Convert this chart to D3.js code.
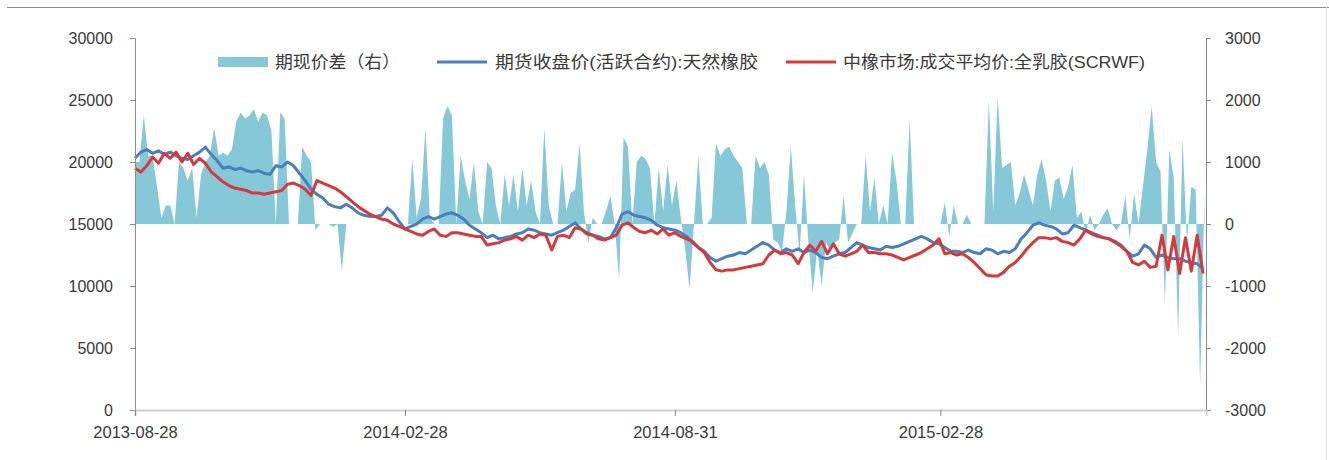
<!DOCTYPE html>
<html>
<head>
<meta charset="utf-8">
<script src="https://cdn.jsdelivr.net/npm/d3@7"></script>
<style>
  html, body { margin: 0; padding: 0; background: #fff; }
  svg text { font-family: "Liberation Sans", "Noto Sans CJK SC", sans-serif; fill: #3a3a3a; }
</style>
</head>
<body>
<div id="chart"></div>
<script>
// series are sampled on a fixed calendar step from the first date
const startDate = "2013-08-28"
const endDate = "2015-08-28"
const lineStepDays = 4
const spreadStepDays = 3

const xTickDates = ["2013-08-28", "2014-02-28", "2014-08-31", "2015-02-28"]
const leftTicks = [0, 5000, 10000, 15000, 20000, 25000, 30000]
const rightTicks = [-3000, -2000, -1000, 0, 1000, 2000, 3000]

const legendNames = ["期现价差（右）", "期货收盘价(活跃合约):天然橡胶", "中橡市场:成交平均价:全乳胶(SCRWF)"]

// 期货收盘价(活跃合约):天然橡胶
const futures = [
  20300, 20800, 21000, 20700, 20900, 20600, 20800, 20500, 20300, 20200,
  20500, 20800, 21200, 20600, 20100, 19500, 19600, 19400, 19500, 19300,
  19200, 19300, 19100, 19000, 19700, 19600, 20000, 19700, 19100, 18500,
  17800, 17400, 17100, 16600, 16400, 16300, 16600, 16300, 15900, 15700,
  15600, 15600, 15700, 16300, 15900, 15200, 14600, 14800, 15000, 15400,
  15600, 15400, 15600, 15800, 15900, 15700, 15400, 14900, 14600, 14300,
  13900, 14100, 13800, 13900, 14000, 14200, 14300, 14600, 14500, 14300,
  14200, 14100, 14300, 14500, 14800, 15100, 14600, 14300, 14100, 14000,
  13800, 13900, 14700, 15800, 16000, 15700, 15600, 15500, 15300, 14900,
  14700, 14600, 14500, 14300, 14000, 13500, 13100, 12800, 12300, 12000,
  12200, 12400, 12500, 12700, 12600, 12900, 13200, 13500, 13300, 12900,
  12700, 13000, 12800, 13000, 12700, 12900, 12700, 12300, 12200, 12400,
  12600, 12700, 13100, 13500, 13300, 13100, 13000, 12900, 13200, 13100,
  13200, 13400, 13600, 13800, 14000, 13800, 13500, 13400, 13100, 12800,
  12800, 12700, 12900, 12700, 12600, 13000, 12900, 12600, 12800, 12700,
  13000, 13800, 14300, 14900, 15100, 14900, 14800, 14600, 14200, 14300,
  14900, 14700, 14500, 14300, 14100, 13900, 13800, 13600, 13300, 12800,
  12400, 12600, 13300, 13000, 12300, 12500, 12300, 12200, 12200, 12000,
  11900, 11800, 11400
]

// 中橡市场:成交平均价:全乳胶(SCRWF)
const spot = [
  19500, 19200, 19700, 20400, 19900, 20700, 20300, 20800, 20000, 20700,
  19800, 20300, 19900, 19200, 18800, 18400, 18100, 17900, 17800, 17700,
  17500, 17500, 17400, 17500, 17600, 17700, 18200, 18300, 18100, 17800,
  17300, 18500, 18300, 18100, 17900, 17600, 17200, 16800, 16400, 16100,
  15800, 15600, 15400, 15300, 15000, 14800, 14600, 14400, 14200, 14100,
  14400, 14600, 14100, 14000, 14300, 14300, 14200, 14100, 14000, 14000,
  13300, 13400, 13500, 13700, 13800, 14000, 13700, 14100, 13900, 14200,
  14100, 12900, 14000, 14100, 13900, 14700, 14600, 14200, 14100, 13800,
  13700, 13900, 14100, 14900, 15100, 14700, 14400, 14300, 14500, 14200,
  14600, 14100, 14300, 14000, 13800, 13600, 13100, 12700, 11900, 11300,
  11200, 11300, 11300, 11400, 11500, 11600, 11700, 11800, 12500, 12900,
  12600, 12700, 12500, 11800, 12700, 13300, 12800, 13600, 12600, 13400,
  12600, 12400, 12600, 12800, 13300, 12700, 12700, 12600, 12600, 12500,
  12300, 12100, 12300, 12500, 12700, 13000, 13300, 13800, 12600, 12700,
  12500, 12600, 12300, 11900, 11400, 10900, 10800, 10800, 11100, 11600,
  11900, 12400, 13000, 13500, 13900, 13900, 13800, 13900, 13600, 13500,
  13300, 13800, 14500, 14200, 14000, 13900, 13800, 13500, 13200, 12800,
  11900, 11700, 12000, 11500, 11600, 14100, 11300, 14000, 11000, 13900,
  11200, 14100, 11000
]

// 期现价差（右）
const spread = [
  1000, 1000, 1750, 1100, 1100, 600, 100, 300, 300, 0,
  1000, 900, 700, 900, 100, 800, 1000, 1100, 1550, 1100,
  1150, 1100, 1200, 1650, 1800, 1700, 1750, 1850, 1650, 1800,
  1750, 1500, 0, 1800, 1700, 0, 0, 0, 1250, 1100,
  1000, -100, 0, 0, 0, -50, 0, -750, 0, 0,
  0, 0, 0, 0, 0, 0, 0, 0, 0, 0,
  0, 0, 0, 1050, 100, 420, 1550, 100, 0, 0,
  1700, 1900, 1750, 0, 1100, 700, 400, 1000, 200, 0,
  1000, 900, 300, 0, 800, 300, 800, 200, 900, 300,
  700, 200, 0, 1550, 300, 0, 0, 1000, 200, 500,
  550, 1300, 200, -300, 100, 0, 0, 200, 450, 0,
  -900, 1400, 1250, 0, 1000, 1100, 1050, 900, 0, 900,
  200, 950, 300, 700, 100, -400, -1050, 0, 1100, 0,
  0, 100, 1300, 1100, 1200, 1250, 1100, 1000, 900, 0,
  0, 1100, 900, 1000, 800, -250, -300, -450, 200, 1250,
  300, -500, 800, -300, -1100, -400, -1000, -300, -450, -300,
  -250, 450, -300, -150, 0, 0, 1100, 200, 750, 0,
  300, 0, 1150, 700, 0, 0, 1700, 0, 0, 0,
  0, 0, 0, 0, 350, -200, 300, 0, 0, 150,
  0, 0, 0, 0, 2000, 200, 2050, 900, 950, 1000,
  300, 500, 800, 550, 300, 800, 1050, 700, 200, 700,
  750, 400, 600, 950, 100, 200, -150, 150, -100, 0,
  150, 250, 0, -100, 0, 450, -250, 500, 0, 600,
  1200, 1900, 1000, 850, -1300, 1200, 750, -1800, 1400, -300,
  600, 550, -2600, 500
]

const W = 1329, H = 460
const margin = {left: 135, right: 1206, top: 38, bottom: 410}

const parse = d3.timeParse("%Y-%m-%d")
const t0 = parse(startDate)
const lineData = futures.map((v, i) => ({date: d3.timeDay.offset(t0, i * lineStepDays), fut: v, spot: spot[i]}))
const spreadData = spread.map((v, i) => ({date: d3.timeDay.offset(t0, i * spreadStepDays), v: v}))

const svg = d3.select("#chart").append("svg")
  .attr("width", W).attr("height", H)

// outer frame
svg.append("line").attr("x1", 7).attr("x2", W).attr("y1", 7.5).attr("y2", 7.5)
  .attr("stroke", "#8c8c8c").attr("stroke-width", 1)
svg.append("line").attr("x1", 1326.5).attr("x2", 1326.5).attr("y1", 7).attr("y2", H)
  .attr("stroke", "#e4e4e4").attr("stroke-width", 1)

const x = d3.scaleTime()
  .domain([parse(startDate), parse(endDate)])
  .range([margin.left, margin.right])

const yL = d3.scaleLinear().domain([0, 30000]).range([margin.bottom, margin.top])
const yR = d3.scaleLinear().domain([-3000, 3000]).range([margin.bottom, margin.top])

// spread area (right axis)
svg.append("path")
  .datum(spreadData)
  .attr("fill", "#86c8d8")
  .attr("d", d3.area().x(d => x(d.date)).y0(yR(0)).y1(d => yR(d.v)))

// futures close
svg.append("path")
  .datum(lineData)
  .attr("fill", "none")
  .attr("stroke", "#4a7ebf")
  .attr("stroke-width", 3)
  .attr("stroke-linejoin", "round")
  .attr("d", d3.line().x(d => x(d.date)).y(d => yL(d.fut)))

// spot price
svg.append("path")
  .datum(lineData)
  .attr("fill", "none")
  .attr("stroke", "#d23a3c")
  .attr("stroke-width", 3)
  .attr("stroke-linejoin", "round")
  .attr("d", d3.line().x(d => x(d.date)).y(d => yL(d.spot)))

// axes
const fmt = d => String(d)
const axisL = svg.append("g")
  .attr("transform", `translate(${margin.left},0)`)
  .call(d3.axisLeft(yL).tickValues(leftTicks).tickFormat(fmt).tickSizeOuter(0).tickSize(5).tickPadding(17))
const axisR = svg.append("g")
  .attr("transform", `translate(${margin.right},0)`)
  .call(d3.axisRight(yR).tickValues(rightTicks).tickFormat(fmt).tickSizeOuter(0).tickSize(5).tickPadding(14))
const axisB = svg.append("g")
  .attr("transform", `translate(0,${margin.bottom})`)
  .call(d3.axisBottom(x).tickValues(xTickDates.map(parse)).tickFormat((d, i) => xTickDates[i]).tickSizeOuter(0).tickSize(6).tickPadding(10))

for (const g of [axisL, axisR]) {
  g.select(".domain").attr("stroke", "#8a8a8a")
  g.selectAll(".tick line").attr("stroke", "#8a8a8a")
  g.selectAll("text").style("font-size", "16px").attr("fill", "#3a3a3a")
}
axisB.select(".domain").attr("stroke", "#cfcfcf").attr("stroke-width", 2)
axisB.selectAll(".tick line").attr("stroke", "#8a8a8a")
axisB.selectAll("text").style("font-size", "16.5px").attr("fill", "#3a3a3a")

// legend
const leg = svg.append("g").attr("transform", "translate(0,62)")
leg.append("rect").attr("x", 218).attr("y", -5).attr("width", 50).attr("height", 10).attr("fill", "#86c8d8")
leg.append("line").attr("x1", 437).attr("x2", 487).attr("stroke", "#4a7ebf").attr("stroke-width", 3)
leg.append("line").attr("x1", 786).attr("x2", 836).attr("stroke", "#d23a3c").attr("stroke-width", 3)
const legX = [275, 495, 843]
const legW = [125, 263, 302]
legendNames.forEach((name, i) => {
  leg.append("text")
    .attr("x", legX[i]).attr("y", 6)
    .attr("textLength", legW[i]).attr("lengthAdjust", "spacingAndGlyphs")
    .style("font-size", "17px")
    .text(name)
})
</script>
</body>
</html>
